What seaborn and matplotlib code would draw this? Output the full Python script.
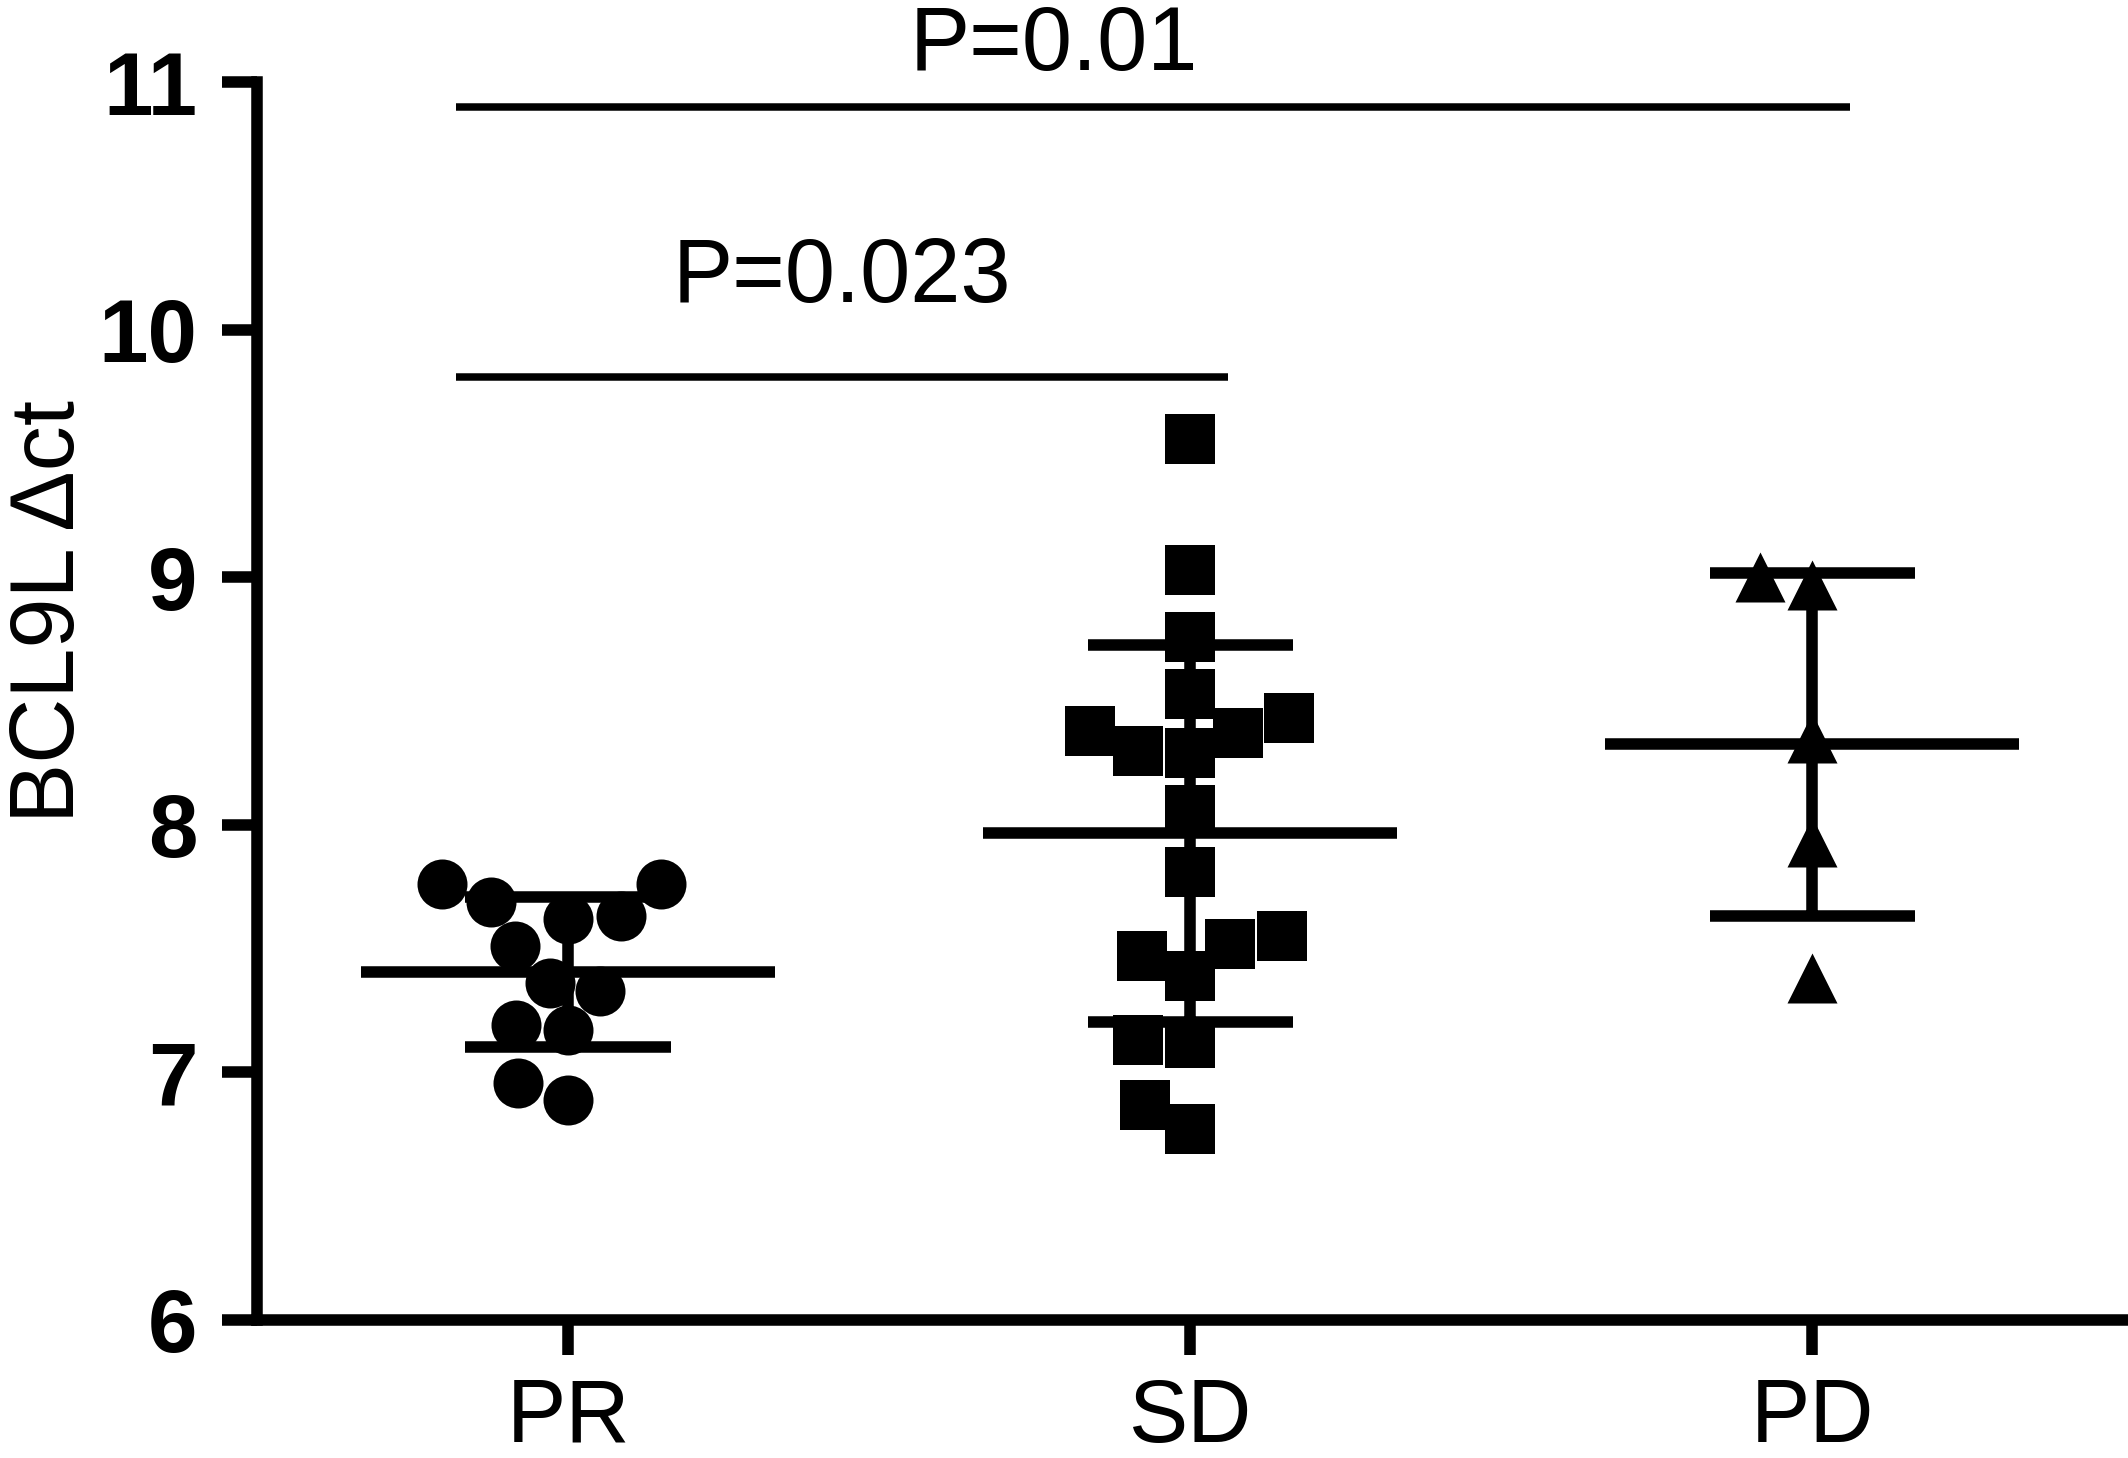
import matplotlib
matplotlib.use("Agg")
import matplotlib.pyplot as plt
import numpy as np
import pandas as pd
import seaborn as sns

# BCL9L delta-ct per response group
groups = ["PR", "SD", "PD"]
pr_vals = [7.62, 7.76, 7.69, 7.76, 7.63, 7.51, 7.36, 7.33, 7.17, 7.19, 6.89, 6.955]
sd_vals = [9.56, 9.03, 8.76, 8.43, 8.37, 8.29, 8.30, 8.38, 8.53, 8.06,
           7.81, 7.55, 7.47, 7.52, 7.39, 7.13, 7.12, 6.87, 6.77]
pd_vals = [9.00, 8.97, 8.35, 7.93, 7.38]
markers = ["o", "s", "^"]
yticks = [6, 7, 8, 9, 10, 11]

# significance brackets
comparisons = [("PR", "SD"), ("PR", "PD")]
p_labels = ["P=0.023", "P=0.01"]
bracket_y = [9.81, 10.90]
label_y = [10.11, 11.05]
label_x = [0.44, 0.78]

df = pd.DataFrame({
    "group": ["PR"] * len(pr_vals) + ["SD"] * len(sd_vals) + ["PD"] * len(pd_vals),
    "value": pr_vals + sd_vals + pd_vals,
})

sns.set_theme(style="ticks")
plt.rcParams["font.family"] = ["Liberation Sans", "DejaVu Sans"]
plt.rcParams["text.color"] = "black"
plt.rcParams["axes.labelcolor"] = "black"
plt.rcParams["xtick.color"] = "black"
plt.rcParams["ytick.color"] = "black"

LW = 8.3
fig = plt.figure(figsize=(21.28, 14.58), dpi=100)
ax = fig.add_axes([0.1208, 0.0947, 0.877, 0.849])

for g, m in zip(groups, markers):
    sns.swarmplot(data=df[df.group == g], x="group", y="value", order=groups,
                  marker=m, size=36, color="black", linewidth=0, ax=ax)

sns.pointplot(data=df, x="group", y="value", order=groups,
              errorbar="sd", capsize=0.33, linestyle="none",
              marker="_", markersize=298, markeredgewidth=LW,
              color="black",
              err_kws={"linewidth": LW, "solid_capstyle": "butt"}, ax=ax)

ax.set_xlim(-0.5, 2.5)
ax.set_ylim(6, 11)
ax.set_yticks(yticks)
ax.set_yticklabels([str(v) for v in yticks], fontweight="bold", fontsize=64)

for (a, b), lab, yb, yl, xl in zip(comparisons, p_labels, bracket_y, label_y, label_x):
    x0 = groups.index(a) - 0.18
    x1 = groups.index(b) + 0.06
    ax.plot([x0, x1], [yb, yb], color="black", lw=5.4,
            solid_capstyle="butt", clip_on=False)
    ax.text(xl, yl, lab, ha="center", va="baseline", fontsize=65, clip_on=False)

sns.despine(ax=ax)
for s in ["left", "bottom"]:
    ax.spines[s].set_linewidth(LW)
    ax.spines[s].set_color("black")

ax.tick_params(axis="both", length=25, width=LW, color="black", direction="out")
ax.tick_params(axis="y", pad=18)
ax.tick_params(axis="x", pad=16, labelsize=64)

ax.set_xlabel("")
ax.set_ylabel("BCL9L \u0394ct", fontsize=65)
ax.yaxis.set_label_coords(-0.088, 0.572)

fig.savefig("out.png", dpi=100, facecolor="white")
